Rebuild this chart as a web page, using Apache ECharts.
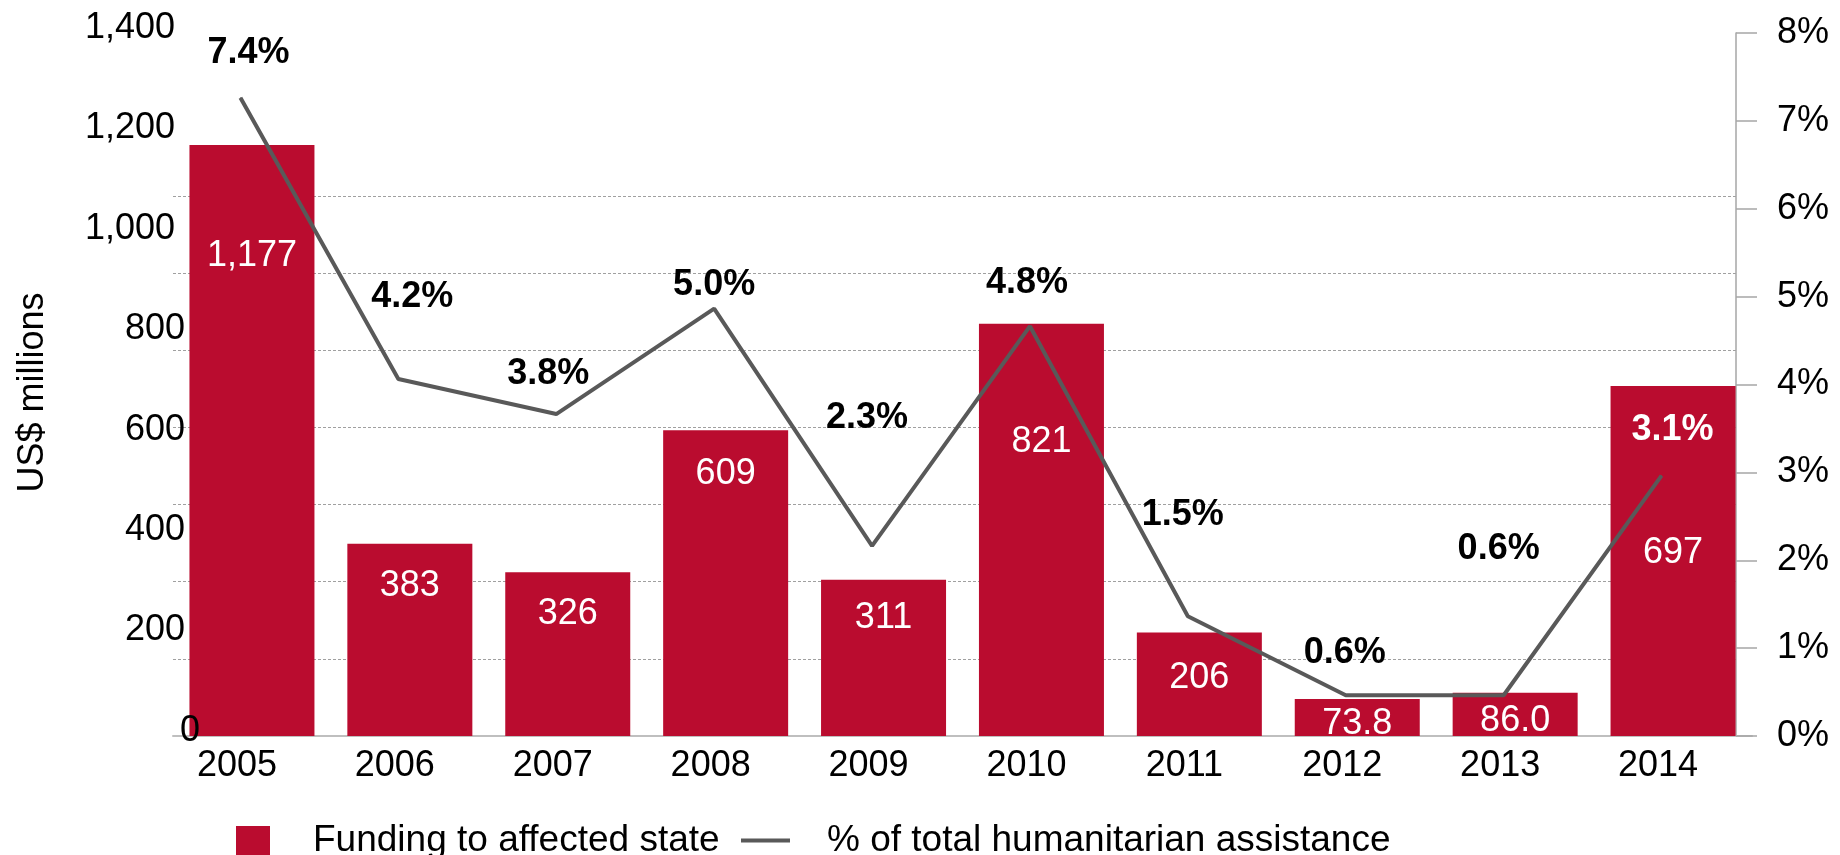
<!DOCTYPE html>
<html>
<head>
<meta charset="utf-8">
<title>Funding to affected state</title>
<script src="https://cdn.jsdelivr.net/npm/echarts@6/dist/echarts.min.js"></script>
<style>
  html, body { margin: 0; padding: 0; background: #fff; }
  #container { width: 1840px; height: 855px; }
</style>
</head>
<body>
<div id="container"></div>
<script>
// 数据
const years = ['2005', '2006', '2007', '2008', '2009', '2010', '2011', '2012', '2013', '2014'];
const funding = [1177, 383, 326, 609, 311, 821, 206, 73.8, 86.0, 697]; // US$ millions
const sharePct = [7.4, 4.2, 3.8, 5.0, 2.3, 4.8, 1.5, 0.6, 0.6, 3.1];   // % of total humanitarian assistance
const barName = 'Funding to affected state';
const lineName = '% of total humanitarian assistance';
const leftMax = 1400, leftStep = 200;
const rightMax = 8, rightStep = 1;

// 标签位置（手工摆放）
const barLabelDy = [111, 42, 42, 44, 38, 118, 46, 25, 28, 167];
const pctLabelOffset = [[8, -44], [14, -81], [-8, -39], [0, -23], [-5, -127],
                        [-3, -43], [-5, -101], [-1, -42], [-5, -146], [11, -45]];

const FONT = "'Liberation Sans', Arial, Helvetica, sans-serif";
const RED = '#BA0C2F';
const GREY = '#595959';

function fmtFunding(v) {
  return v < 100 ? v.toFixed(1) : v.toLocaleString('en-US');
}

function leftLabel(v) {
  if (v === 0) return '{z|0}';
  if (v >= 1000) return '{w|' + v.toLocaleString('en-US') + '}';
  return '{h|' + v + '}';
}

const dom = document.getElementById('container');
const myChart = echarts.init(dom, null, { renderer: 'canvas' });

const option = {
  animation: false,
  backgroundColor: '#fff',
  textStyle: { fontFamily: FONT },
  legend: [
    {
      data: [barName],
      left: 236, top: 822, padding: 0,
      itemWidth: 34, itemHeight: 29,
      icon: 'rect',
      textStyle: { fontSize: 37, color: '#000', fontFamily: FONT, padding: [0, 0, 0, 38] }
    },
    {
      data: [lineName],
      left: 741, top: 822, padding: 0,
      itemWidth: 49, itemHeight: 4,
      icon: 'rect',
      itemStyle: { color: GREY },
      textStyle: { fontSize: 37, color: '#000', fontFamily: FONT, padding: [0, 0, 0, 32] }
    }
  ],
  grid: [
    { left: 173, right: 88, top: 33, bottom: 119 },        // 柱状图
    { left: 173, right: 104, top: 196, bottom: 119 },      // 虚线网格
    { left: 161.5, right: 99.5, top: 45, bottom: 107 }     // 折线
  ],
  xAxis: [
    {
      type: 'category', gridIndex: 0, data: years,
      axisLine: { lineStyle: { color: '#bfbfbf', width: 2 } },
      axisTick: { show: false },
      axisLabel: { fontSize: 36, color: '#000', margin: 12, padding: [0, 30, 0, 0], fontFamily: FONT }
    },
    { type: 'value', gridIndex: 1, show: false, min: 0, max: 1 },
    { type: 'category', gridIndex: 2, data: years, show: false }
  ],
  yAxis: [
    {
      type: 'value', gridIndex: 0, position: 'left', z: 10,
      min: 0, max: leftMax, interval: leftStep,
      name: 'US$ millions', nameLocation: 'middle', nameRotate: 90, nameGap: 122,
      nameTextStyle: { fontSize: 36, color: '#000', fontFamily: FONT, padding: [0, 16, 0, 0] },
      axisLine: { show: false }, axisTick: { show: false }, splitLine: { show: false },
      axisLabel: {
        margin: -27, align: 'right', color: '#000', fontSize: 36, fontFamily: FONT,
        formatter: leftLabel,
        rich: {
          z: { fontSize: 36, fontFamily: FONT, padding: [0, 0, 10, 0] },
          h: { fontSize: 36, fontFamily: FONT, padding: [0, 15, 10, 0] },
          w: { fontSize: 36, fontFamily: FONT, padding: [0, 25, 10, 0] }
        }
      }
    },
    {
      type: 'value', gridIndex: 0, position: 'right', offset: -16,
      min: 0, max: rightMax, interval: rightStep,
      axisLine: { show: true, lineStyle: { color: '#a6a6a6', width: 1.5 } },
      axisTick: { show: true, length: 21, lineStyle: { color: '#a6a6a6', width: 1.5 } },
      splitLine: { show: false },
      axisLabel: {
        margin: 41, color: '#000', fontSize: 36, fontFamily: FONT,
        padding: [0, 0, 24, 0],
        formatter: '{value}%'
      }
    },
    {
      type: 'value', gridIndex: 1, min: 0, max: 7, interval: 1,
      axisLine: { show: false }, axisTick: { show: false }, axisLabel: { show: false },
      splitLine: { show: true, lineStyle: { color: '#a0a0a0', width: 1, type: [3, 2] } }
    },
    { type: 'value', gridIndex: 2, min: 0, max: rightMax, show: false }
  ],
  series: [
    {
      name: barName,
      type: 'bar',
      xAxisIndex: 0, yAxisIndex: 0,
      barWidth: 125,
      itemStyle: { color: RED },
      data: funding.map((v, i) => ({
        value: v,
        label: { offset: [0, barLabelDy[i]] }
      })),
      label: {
        show: true, position: 'insideTop', distance: 0,
        align: 'center', verticalAlign: 'middle',
        color: '#fff', fontSize: 36, fontFamily: FONT,
        formatter: p => fmtFunding(p.value)
      },
      z: 2
    },
    {
      name: lineName,
      type: 'line',
      xAxisIndex: 2, yAxisIndex: 3,
      symbol: 'circle', symbolSize: 1, showSymbol: true,
      color: GREY,
      itemStyle: { color: GREY },
      lineStyle: { color: GREY, width: 4 },
      data: sharePct.map((v, i) => ({
        value: v,
        label: {
          offset: pctLabelOffset[i],
          color: i === sharePct.length - 1 ? '#fff' : '#000'
        }
      })),
      label: {
        show: true, position: 'top', distance: 0,
        align: 'center', verticalAlign: 'middle',
        fontSize: 36, fontWeight: 'bold', fontFamily: FONT,
        formatter: p => p.value.toFixed(1) + '%'
      },
      z: 3
    }
  ]
};

myChart.setOption(option, true);
</script>
</body>
</html>
